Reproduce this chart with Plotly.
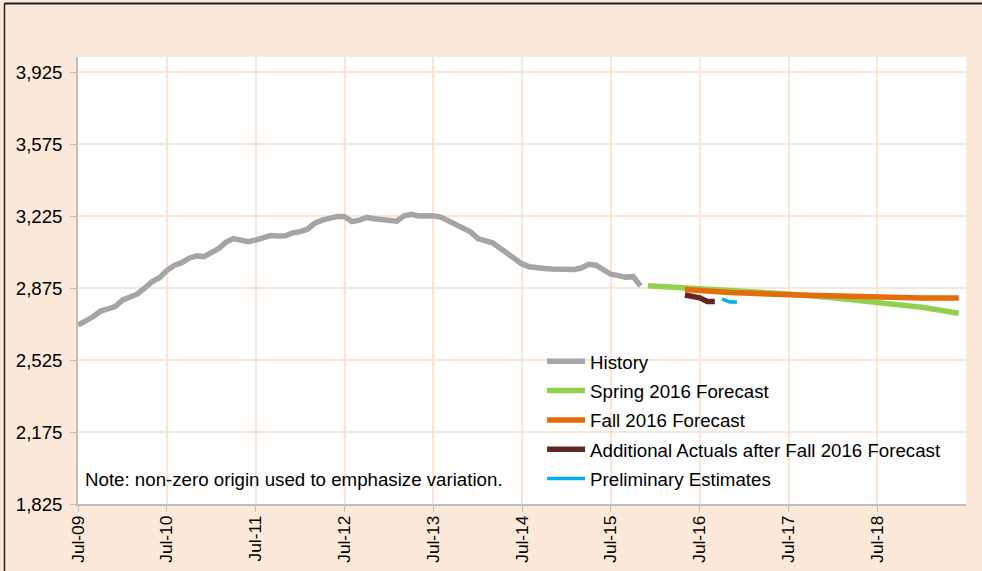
import pandas as pd
import plotly.graph_objects as go

# ---------------- data ----------------
history_values = [2695, 2715, 2735, 2762, 2771, 2785, 2817, 2835, 2845, 2875,
                  2905, 2925, 2960, 2985, 2998, 3020, 3031, 3027, 3045, 3068,
                  3097, 3115, 3108, 3100, 3108, 3117, 3130, 3128, 3129, 3143,
                  3149, 3162, 3190, 3205, 3212, 3223, 3222, 3198, 3205, 3218,
                  3212, 3209, 3202, 3200, 3225, 3233, 3225, 3226, 3226, 3220,
                  3202, 3189, 3172, 3148, 3115, 3104, 3095, 3070, 3042, 3016,
                  2992, 2978, 2972, 2970, 2968, 2968, 2969, 2965, 2972, 2990,
                  2986, 2965, 2942, 2935, 2928, 2930, 2885]
history_start = "2009-07-01"

spring_dates = ["2015-12-01", "2016-07-01", "2017-01-01", "2017-07-01",
                "2018-01-01", "2018-07-01", "2019-01-01", "2019-06-01"]
spring_values = [2886, 2873, 2860, 2846, 2827, 2805, 2781, 2752]

fall_dates = ["2016-05-01", "2016-11-01", "2017-07-01", "2018-01-01",
              "2018-07-01", "2019-01-01", "2019-06-01"]
fall_values = [2868, 2853, 2842, 2835, 2830, 2827, 2826]

actual_dates = ["2016-05-01", "2016-06-01", "2016-07-01", "2016-08-01", "2016-09-01"]
actual_values = [2841, 2831, 2827, 2809, 2810]

prelim_dates = ["2016-10-01", "2016-11-01", "2016-12-01"]
prelim_values = [2822, 2807, 2807]

y_ticks = [1825, 2175, 2525, 2875, 3225, 3575, 3925]
x_tick_dates = ["2009-07-01", "2010-07-01", "2011-07-01", "2012-07-01", "2013-07-01",
                "2014-07-01", "2015-07-01", "2016-07-01", "2017-07-01", "2018-07-01"]
x_tick_labels = ["Jul-09", "Jul-10", "Jul-11", "Jul-12", "Jul-13",
                 "Jul-14", "Jul-15", "Jul-16", "Jul-17", "Jul-18"]
note_text = "Note: non-zero origin used to emphasize variation."

# ---------------- figure ----------------
history_dates = pd.date_range(history_start, periods=len(history_values), freq="MS")

FONT = "Liberation Sans, Arial, sans-serif"
FS = 18.7
fig = go.Figure()

series = [
    ("History", history_dates, history_values, "#A5A5A5", 5.5),
    ("Spring 2016 Forecast", spring_dates, spring_values, "#92D050", 5.5),
    ("Fall 2016 Forecast", fall_dates, fall_values, "#E46C0A", 5.5),
    ("Additional Actuals after Fall 2016 Forecast", actual_dates, actual_values, "#632523", 5.5),
    ("Preliminary Estimates", prelim_dates, prelim_values, "#00B0F0", 3.5),
]
for name, xs, ys, color, w in series:
    fig.add_trace(go.Scatter(x=xs, y=ys, mode="lines", name=name,
                             line=dict(color=color, width=w), legendgroup=name))

fig.update_layout(
    width=982, height=571,
    autosize=False,
    margin=dict(l=78, r=16, t=57, b=67, autoexpand=False),
    paper_bgcolor="#FDE9D9",
    plot_bgcolor="#FFFFFF",
    font=dict(family=FONT, size=FS, color="#000000"),
    showlegend=True,
    legend=dict(x=0.5226, y=0.361, xanchor="left", yanchor="top",
                bgcolor="rgba(255,255,255,0)", borderwidth=0,
                font=dict(family=FONT, size=FS, color="#000000"),
                itemwidth=38, tracegroupgap=2),
    xaxis=dict(
        type="date",
        automargin=False,
        range=["2009-07-01", "2019-07-01"],
        tickvals=x_tick_dates, ticktext=x_tick_labels,
        tickangle=-90,
        showgrid=True, gridcolor="#FCE4D6", gridwidth=1.5,
        showline=True, linecolor="#BFBFBF", linewidth=1.5,
        ticks="outside", ticklen=6, tickcolor="#BFBFBF",
        ticklabelstandoff=-3,
        tickfont=dict(family=FONT, size=17.3, color="#000000"),
        zeroline=False,
    ),
    yaxis=dict(
        automargin=False,
        range=[1825, 3998],
        tickvals=y_ticks, tickformat=",",
        showgrid=True, gridcolor="#FCE4D6", gridwidth=1.5,
        showline=True, linecolor="#BFBFBF", linewidth=1.5,
        ticks="outside", ticklen=6, tickcolor="#BFBFBF",
        ticklabelstandoff=4,
        tickfont=dict(family=FONT, size=FS, color="#000000"),
        zeroline=False,
    ),
    annotations=[dict(text=note_text, xref="paper", yref="paper",
                      x=0.006, y=0.054, xanchor="left", yanchor="middle",
                      showarrow=False, font=dict(family=FONT, size=FS, color="#000000"))],
    shapes=[
        dict(type="line", xref="paper", yref="paper", x0=-0.083, x1=1.02,
             y0=1.1197, y1=1.1197, line=dict(color="#222222", width=2)),
        dict(type="line", xref="paper", yref="paper", x0=-0.0828, x1=-0.0828,
             y0=1.1197, y1=-0.16, line=dict(color="#222222", width=1.5)),
    ],
)

fig.write_html("out.html", config={"displayModeBar": False},
               post_script="document.body.style.margin='0';document.body.style.overflow='hidden';")
